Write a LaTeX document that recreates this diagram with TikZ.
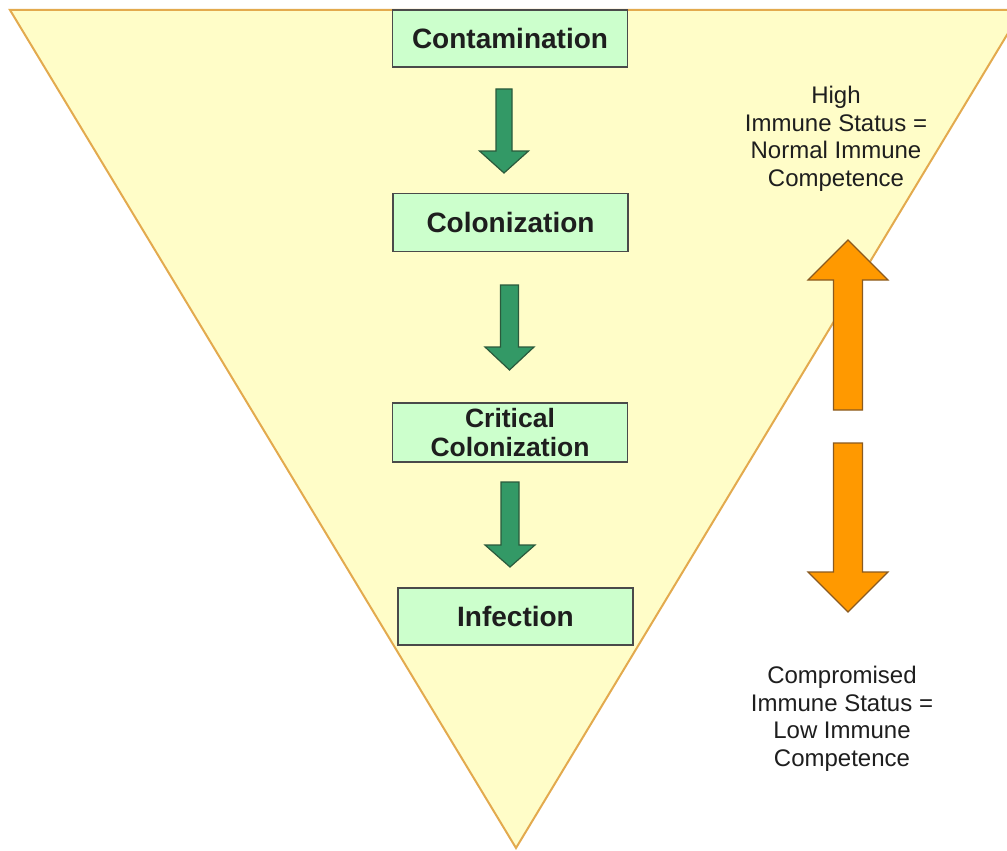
\documentclass[tikz,border=0pt]{standalone}
\usepackage{fontspec}
\setmainfont{Liberation Sans}
\definecolor{triFill}{HTML}{FFFDC8}
\definecolor{triLine}{HTML}{E3AA4E}
\definecolor{boxFill}{HTML}{CCFFCC}
\definecolor{boxLine}{HTML}{4A4A4A}
\definecolor{grnFill}{HTML}{339966}
\definecolor{grnLine}{HTML}{2B5A3C}
\definecolor{orgFill}{HTML}{FF9900}
\definecolor{orgLine}{HTML}{8A5A20}
\definecolor{txt}{HTML}{1E1E1E}
\tikzset{
  stagebox/.style={draw=boxLine, line width=1.8pt, fill=boxFill, minimum width=235pt,
    inner sep=0pt, align=center, text=txt,
    font=\fontsize{28}{31}\selectfont\bfseries},
  sidetext/.style={align=center, text=txt, font=\fontsize{24}{27.5}\selectfont},
  grnarrow/.style={fill=grnFill, draw=grnLine, line width=1.2pt, line join=miter},
  orgarrow/.style={fill=orgFill, draw=orgLine, line width=1.2pt, line join=miter}
}
% down arrow: cx, top, headbase, tip, shaft half, head half
\newcommand{\downblock}[7]{%
  \path[#1] (#2-#6,#3) -- (#2+#6,#3) -- (#2+#6,#4) -- (#2+#7,#4) -- (#2,#5)
    -- (#2-#7,#4) -- (#2-#6,#4) -- cycle;}
\begin{document}
\begin{tikzpicture}[x=1pt,y=-1pt]
\useasboundingbox (0,0) rectangle (1007,851);
\fill[white] (0,0) rectangle (1007,851);
\begin{scope}
\clip (0,0) rectangle (1007,851);
\path[fill=triFill, draw=triLine, line width=2pt, line join=miter]
  (10,10) coordinate (tl) -- (1022,10) coordinate (tr) -- (516,848) coordinate (apex) -- cycle;
\end{scope}

\node[stagebox, minimum height=57pt] (contam) at (510,38.5) {Contamination};
\node[stagebox, minimum height=58pt] (colon) at (510.5,222.5) {Colonization};
\node[stagebox, minimum height=59pt, font=\fontsize{26.5}{30}\selectfont\bfseries] (crit) at (510,432.5) {Critical\\[-1pt]Colonization};
\node[stagebox, minimum height=57pt] (infect) at (515.5,616.5) {Infection};

\downblock{grnarrow}{504}{89}{151}{173}{8}{24.5}
\downblock{grnarrow}{509.5}{285}{347}{370}{9}{24.5}
\downblock{grnarrow}{510}{482}{545}{567}{9}{25}

% orange up arrow
\path[orgarrow] (848-14.5,410) -- (848+14.5,410) -- (848+14.5,280) -- (848+40,280)
  -- (848,240) -- (848-40,280) -- (848-14.5,280) -- cycle;
% orange down arrow
\downblock{orgarrow}{848}{443}{572}{612}{14.5}{40}

\node[sidetext] (high) at (836,139) {High\\Immune Status =\\Normal Immune\\Competence};
\node[sidetext] (low) at (842,719) {Compromised\\Immune Status =\\Low Immune\\Competence};
\end{tikzpicture}
\end{document}
